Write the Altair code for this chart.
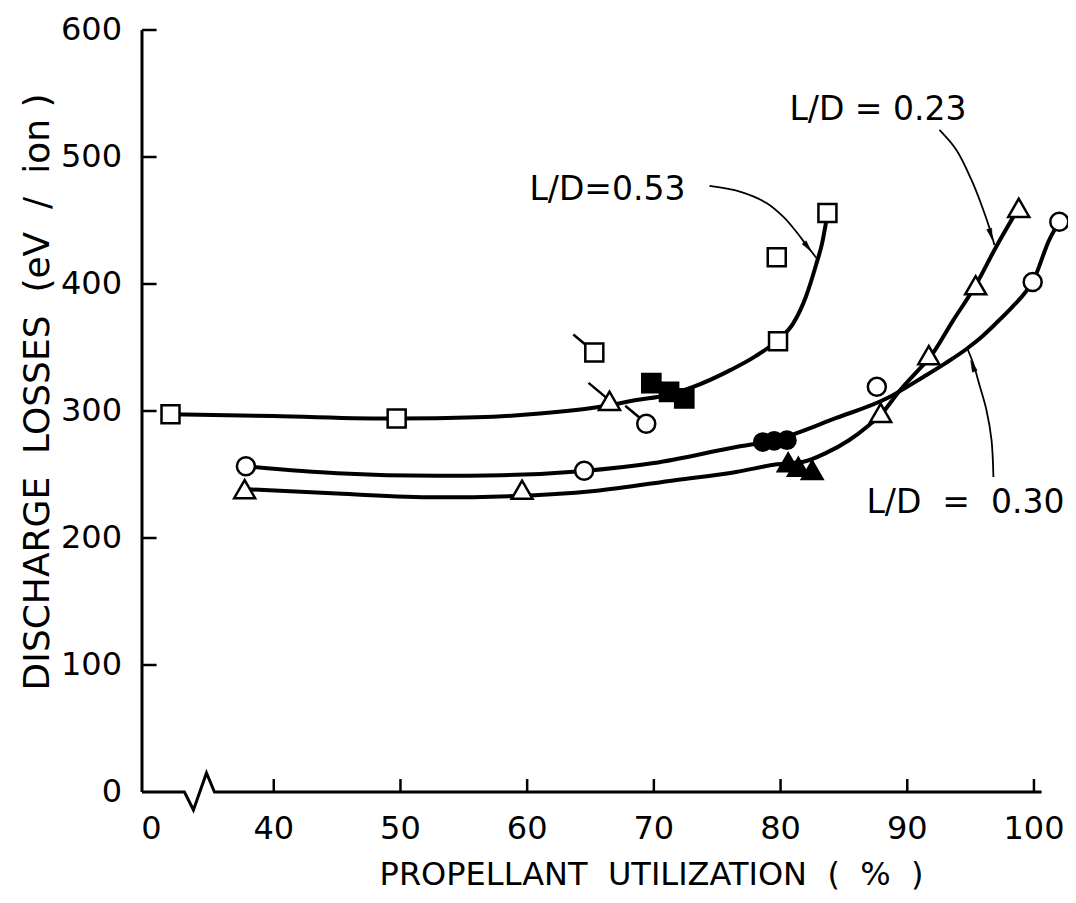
import altair as alt
import pandas as pd

FONT = "DejaVu Sans"
X0, X1 = 29.6, 101.03
NB = "\u00a0"

# ---------------- data ----------------
# L/D = 0.53 (squares)
sq_x = [31.85, 49.7, 79.8, 79.7, 83.7]
sq_y = [297.5, 294.0, 355.0, 421.0, 456.0]
sqf_x = [69.8, 71.2, 72.4]
sqf_y = [322.0, 315.0, 310.0]
sqflag_x = [65.3]
sqflag_y = [346.0]

# L/D = 0.30 (circles)
ci_x = [37.8, 64.5, 87.6, 99.9, 102.0]
ci_y = [256.5, 253.0, 319.0, 401.5, 449.0]
cif_x = [78.6, 79.5, 80.5]
cif_y = [275.5, 276.5, 277.0]
ciflag_x = [69.4]
ciflag_y = [290.0]

# L/D = 0.23 (triangles)
tr_x = [37.7, 59.6, 87.9, 91.7, 95.4, 98.8]
tr_y = [238.5, 238.0, 298.5, 344.0, 399.0, 460.0]
trf_x = [80.6, 81.4, 82.5]
trf_y = [259.5, 256.0, 253.5]
trflag_x = [66.5]
trflag_y = [308.0]

# faired curves
c053_x = [31.85, 40, 49.7, 56, 61, 65.5, 68.9, 70.8, 73.1, 76, 78, 79.8, 81.0, 82.0, 82.8, 83.3, 83.65]
c053_y = [297.5, 296, 294, 295, 298, 303, 309, 312, 319, 332, 343, 356, 369, 390, 415, 433, 452]
c030_x = [37.8, 45, 52.8, 58, 64.5, 70, 76.5, 79.5, 84.4, 88.4, 91.3, 93.0, 94.7, 96.0, 97.0, 98.3, 99.2, 99.9, 101.2, 102.0]
c030_y = [256.5, 251, 249, 249.5, 252.8, 259, 271.7, 277, 294.5, 310, 327, 337.5, 349, 359.5, 369, 382, 392, 401.6, 434.6, 449]
c023_x = [37.7, 45, 52.8, 58.9, 65.3, 71.8, 76.5, 79.7, 81.8, 83.6, 85.4, 87.0, 87.9, 89.4, 91.1, 91.7, 93.6, 95.4, 97.0, 98.8]
c023_y = [238.5, 235, 232, 233, 237, 245.7, 252, 258, 260, 267, 277, 289, 297, 316, 334.6, 341, 371, 399, 429, 460]

# annotation arrows
a053_x = [74.39, 76.91, 78.89, 80.23, 81.26, 82.04, 82.83]
a053_y = [477.2, 472.4, 463.8, 452.8, 440.9, 430.7, 420.5]
a023_x = [92.54, 93.88, 95.07, 95.86, 96.49, 96.88]
a023_y = [521.3, 505.5, 481.9, 462.2, 444.1, 430.7]
a030_x = [96.80, 96.65, 96.25, 95.70, 95.22, 94.75]
a030_y = [248.0, 277.2, 300.8, 320.5, 337.0, 349.0]

labels_text = ["L/D=0.53", "L/D = 0.23", "L/D" + NB + " =" + NB + " 0.30"]
labels_x = [60.18, 80.7, 86.78]
labels_y = [474.0, 537.0, 227.6]

# axes
x_tick_vals = [40, 50, 60, 70, 80, 90, 100]
x_label_vals = [30.35, 40, 50, 60, 70, 80, 90, 100]
x_label_text = ["0", "40", "50", "60", "70", "80", "90", "100"]
y_tick_vals = [0, 100, 200, 300, 400, 500, 600]
y_label_text = ["0", "100", "200", "300", "400", "500", "600"]
x_title = "PROPELLANT" + NB + " UTILIZATION" + NB + " (" + NB + " %" + NB + " )"
y_title = "DISCHARGE" + NB + " LOSSES" + NB + " (eV" + NB + " /" + NB + " ion )"

# axis line with break
brk_x = [X0, 32.95, 33.66, 34.69, 35.32, 100.6]
brk_y = [0, 0, -14.2, 15.0, 0, 0]

# ---------------- chart ----------------
xs = alt.Scale(domain=[X0, X1], nice=False, zero=False)
ys = alt.Scale(domain=[0, 600], nice=False, zero=False)


def df(xv, yv):
    return pd.DataFrame({"x": xv, "y": yv, "i": list(range(len(xv)))})


def X():
    return alt.X("x:Q", scale=xs, axis=None)


def Y():
    return alt.Y("y:Q", scale=ys, axis=None)


layers = []


def curve(xv, yv, width=4.0, interp="monotone"):
    return alt.Chart(df(xv, yv)).mark_line(
        color="black", strokeWidth=width, interpolate=interp
    ).encode(x=X(), y=Y(), order="i:Q")


# main curves
layers.append(curve(c053_x, c053_y))
layers.append(curve(c030_x, c030_y))
layers.append(curve(c023_x, c023_y))

# axes drawn by hand (inward ticks, broken x axis)
layers.append(
    alt.Chart(df(brk_x, brk_y)).mark_line(color="black", strokeWidth=3, interpolate="linear")
    .encode(x=X(), y=Y(), order="i:Q")
)
layers.append(
    alt.Chart(pd.DataFrame({"v": [0]})).mark_rule(color="black", strokeWidth=3)
    .encode(x=alt.XDatum(X0, scale=xs, axis=None), y=alt.YDatum(0, scale=ys, axis=None),
            y2=alt.Y2Datum(600))
)
layers.append(
    alt.Chart(pd.DataFrame({"v": y_tick_vals[1:]})).mark_rule(color="black", strokeWidth=2.5)
    .encode(x=alt.XDatum(X0, scale=xs, axis=None), x2=alt.X2Datum(X0 + 1.15),
            y=alt.Y("v:Q", scale=ys, axis=None))
)
layers.append(
    alt.Chart(pd.DataFrame({"v": x_tick_vals})).mark_rule(color="black", strokeWidth=2.5)
    .encode(x=alt.X("v:Q", scale=xs, axis=None),
            y=alt.YDatum(0, scale=ys, axis=None), y2=alt.Y2Datum(10.2))
)
# tick labels
layers.append(
    alt.Chart(pd.DataFrame({"v": x_label_vals, "t": x_label_text}))
    .mark_text(font=FONT, fontSize=32, align="center", baseline="middle", dy=37, color="black")
    .encode(x=alt.X("v:Q", scale=xs, axis=None), y=alt.YDatum(0, scale=ys, axis=None), text="t:N")
)
layers.append(
    alt.Chart(pd.DataFrame({"v": y_tick_vals, "t": y_label_text}))
    .mark_text(font=FONT, fontSize=32, align="right", baseline="middle", dx=-20, color="black")
    .encode(x=alt.XDatum(X0, scale=xs, axis=None), y=alt.Y("v:Q", scale=ys, axis=None), text="t:N")
)
# axis titles
layers.append(
    alt.Chart(pd.DataFrame({"t": [x_title]}))
    .mark_text(font=FONT, fontSize=32, align="center", baseline="middle", color="black")
    .encode(x=alt.value(509.5), y=alt.value(845), text="t:N")
)
layers.append(
    alt.Chart(pd.DataFrame({"t": [y_title]}))
    .mark_text(font=FONT, fontSize=36, align="center", baseline="middle", angle=270, color="black")
    .encode(x=alt.value(-104), y=alt.value(362), text="t:N")
)

# flags on the off-curve points
flags = pd.DataFrame({"x": sqflag_x + trflag_x + ciflag_x, "y": sqflag_y + trflag_y + ciflag_y})
layers.append(
    alt.Chart(flags).mark_rule(color="black", strokeWidth=2.5,
                               xOffset=-3, yOffset=-3, x2Offset=-21, y2Offset=-18)
    .encode(x=X(), y=Y(), x2=alt.X2("x"), y2=alt.Y2("y"))
)


def pts(xv, yv, shape, size, fill):
    return alt.Chart(df(xv, yv)).mark_point(
        shape=shape, size=size, filled=True, fill=fill,
        stroke="black", strokeWidth=2.5, opacity=1
    ).encode(x=X(), y=Y())


layers.append(pts(sq_x + sqflag_x, sq_y + sqflag_y, "square", 324, "white"))
layers.append(pts(sqf_x, sqf_y, "square", 330, "black"))
layers.append(pts(ci_x + ciflag_x, ci_y + ciflag_y, "circle", 324, "white"))
layers.append(pts(cif_x, cif_y, "circle", 300, "black"))
layers.append(pts(tr_x + trflag_x, tr_y + trflag_y, "triangle-up", 441, "white"))
layers.append(pts(trf_x, trf_y, "triangle-up", 420, "black"))

# annotation arrows
layers.append(curve(a053_x, a053_y, width=1.8, interp="catmull-rom"))
layers.append(curve(a023_x, a023_y, width=1.8, interp="catmull-rom"))
layers.append(curve(a030_x, a030_y, width=1.8, interp="catmull-rom"))

HEAD = "M0,1L-0.45,-1L0.45,-1Z"


def head(xv, yv, ang):
    return alt.Chart(df(xv, yv)).mark_point(
        shape=HEAD, size=130, filled=True, fill="black", stroke="black",
        strokeWidth=0.5, opacity=1, angle=ang
    ).encode(x=X(), y=Y())


layers.append(head([a053_x[-2] + 0.1], [a053_y[-2] - 1.5], 322))
layers.append(head([a023_x[-2] + 0.1], [a023_y[-2] - 5], 344))
layers.append(head([a030_x[-2] - 0.05], [a030_y[-2] - 1.5], 159))

# annotation labels
lab = pd.DataFrame({"x": labels_x, "y": labels_y, "t": labels_text})
layers.append(
    alt.Chart(lab).mark_text(font=FONT, fontSize=33, align="left", baseline="middle", color="black")
    .encode(x=X(), y=Y(), text="t:N")
)

chart = alt.layer(*layers).properties(
    width=905,
    height=762,
    autosize=alt.AutoSizeParams(type="none"),
    padding={"left": 134, "top": 22, "right": 21, "bottom": 103},
    background="white",
).configure_view(stroke=None)

chart.save("out.html", embed_options={"renderer": "svg", "actions": False})
